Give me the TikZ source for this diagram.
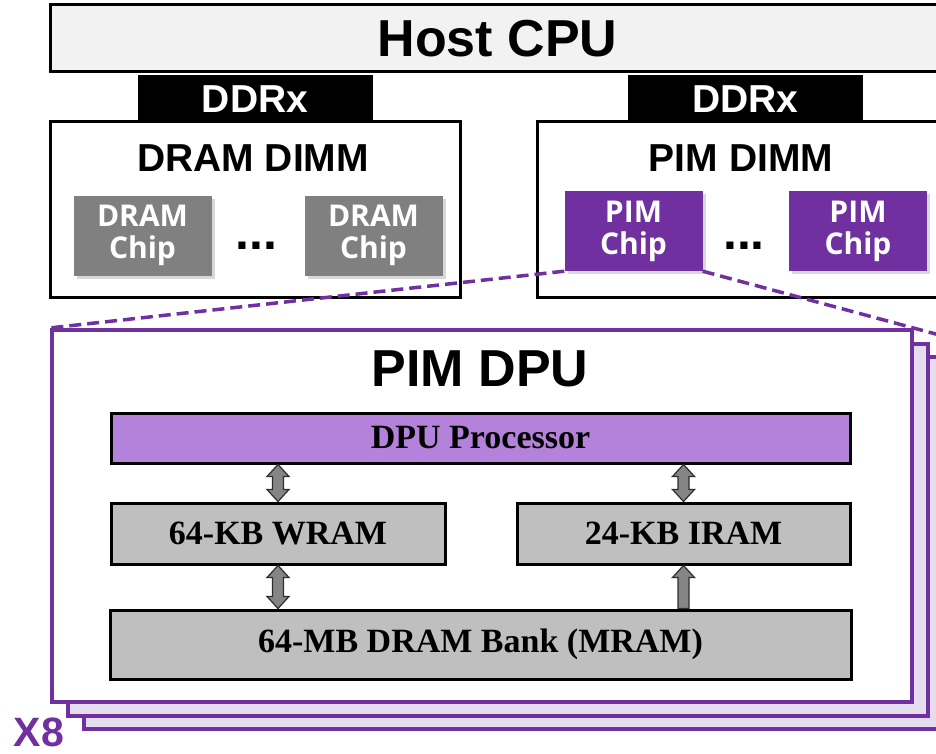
\documentclass[tikz,border=0pt]{standalone}
\usepackage{fontspec}
\setmainfont{Liberation Serif}
\newfontfamily\headfont{Liberation Sans}
\newfontfamily\chipfont{Open Sans}
\usetikzlibrary{calc,shadows}

\definecolor{pimpurple}{HTML}{7030A0}
\definecolor{cpufill}{HTML}{F2F2F2}
\definecolor{dramgray}{HTML}{808080}
\definecolor{procfill}{HTML}{B482DA}
\definecolor{memfill}{HTML}{BFBFBF}
\definecolor{stackfill}{HTML}{E6DCF0}
\definecolor{arrowfill}{HTML}{858585}
\definecolor{arrowline}{HTML}{2E2E2E}

% vertical block arrow with heads at both ends; #1 lower end, #2 upper end
\newcommand{\dualarrow}[2]{%
  \filldraw[blockarrow] let \p1=(#1), \p2=(#2) in
    (\x1,\y1) -- (\x1+11pt,\y1+12pt) -- (\x1+5.5pt,\y1+12pt) --
    (\x1+5.5pt,\y2-12pt) -- (\x1+11pt,\y2-12pt) -- (\x1,\y2) --
    (\x1-11pt,\y2-12pt) -- (\x1-5.5pt,\y2-12pt) --
    (\x1-5.5pt,\y1+12pt) -- (\x1-11pt,\y1+12pt) -- cycle;}
% vertical block arrow pointing up only; #1 lower end, #2 upper end
\newcommand{\uparrowblock}[2]{%
  \filldraw[blockarrow] let \p1=(#1), \p2=(#2) in
    (\x1-5.5pt,\y1) -- (\x1+5.5pt,\y1) -- (\x1+5.5pt,\y2-12pt) --
    (\x1+11pt,\y2-12pt) -- (\x1,\y2) -- (\x1-11pt,\y2-12pt) --
    (\x1-5.5pt,\y2-12pt) -- cycle;}

\begin{document}
\begin{tikzpicture}[x=1pt,y=-1pt,
  every node/.style={inner sep=0pt},
  frame/.style={draw=black, line width=3pt, fill=white},
  busbox/.style={fill=black, text=white, minimum width=235, minimum height=48,
    font=\headfont\bfseries\fontsize{39}{39}\selectfont},
  headtext/.style={font=\headfont\bfseries\fontsize{39}{39}\selectfont},
  chipbox/.style={text=white, align=center, minimum width=138, minimum height=80,
    font=\chipfont\bfseries\fontsize{30}{32}\selectfont,
    drop shadow={shadow xshift=3pt, shadow yshift=-3pt, opacity=0.3}},
  dots/.style={font=\headfont\bfseries\fontsize{50}{50}\selectfont},
  dpuframe/.style={draw=pimpurple, line width=4pt, minimum width=860, minimum height=372},
  membox/.style={draw=black, line width=3pt, fill=memfill,
    font=\bfseries\fontsize{34}{34}\selectfont},
  blockarrow/.style={fill=arrowfill, draw=arrowline, line width=1.2pt},
  zoomline/.style={draw=pimpurple, line width=3.5pt, dash pattern=on 12pt off 6pt}]

\useasboundingbox (0,0) rectangle (936,754);
\clip (0,0) rectangle (936,754);

% host processor and the two memory buses
\node[frame, fill=cpufill, minimum width=895, minimum height=67,
  font=\headfont\bfseries\fontsize{52}{52}\selectfont] (cpu) at (497.5,38.5) {Host CPU};
\node[busbox] (ddrA) at (255,99) {DDRx};
\node[busbox] (ddrB) at (745.5,99) {DDRx};

% conventional DIMM
\node[frame, minimum width=410, minimum height=175] (dramdimm) at (255,209.5) {};
\node[headtext] (dramtitle) at (253,158.5) {DRAM DIMM};
\node[chipbox, fill=dramgray] (dchipA) at (142.5,235.5) {DRAM\\Chip};
\node[chipbox, fill=dramgray] (dchipB) at (373.5,235.5) {DRAM\\Chip};
\node[dots] (ddots) at (256.5,246) {...};

% PIM-enabled DIMM
\node[frame, minimum width=408, minimum height=175] (pimdimm) at (741,209.5) {};
\node[headtext] (pimtitle) at (741,158.5) {PIM DIMM};
\node[chipbox, fill=pimpurple] (pchipA) at (633.5,231) {PIM\\Chip};
\node[chipbox, fill=pimpurple] (pchipB) at (858,231) {PIM\\Chip};
\node[dots] (pdots) at (744,246) {...};

% stack of DPUs per chip
\node[dpuframe, fill=stackfill] (dpuC) at (513.5,543) {};
\node[dpuframe, fill=stackfill] (dpuB) at (497.5,529.5) {};
\node[dpuframe, fill=white] (dpuA) at (481.5,516) {};
\node[font=\headfont\bfseries\fontsize{52}{52}\selectfont] (dputitle) at (480,369) {PIM DPU};

% zoom lines from the PIM chip to the DPU
\draw[zoomline] (pchipA.south west) -- (dpuA.north west);
\draw[zoomline] (pchipA.south east) -- ($(pchipA.south east)!1.25!(dpuA.north east)$);

% DPU internals
\node[membox, fill=procfill, minimum width=739, minimum height=50] (proc) at (480.5,438) {DPU Processor};
\node[membox, minimum width=334, minimum height=61] (wram) at (278,533.5) {64-KB WRAM};
\node[membox, minimum width=333, minimum height=61] (iram) at (683.5,533.5) {24-KB IRAM};
\node[membox, minimum width=741, minimum height=69] (mram) at (480.5,644.5) {64-MB DRAM Bank (MRAM)};

\dualarrow{wram.north}{proc.south -| wram.north}
\dualarrow{iram.north}{proc.south -| iram.north}
\dualarrow{mram.north -| wram.south}{wram.south}
\uparrowblock{mram.north -| iram.south}{iram.south}

\node[text=pimpurple, font=\headfont\bfseries\fontsize{41}{41}\selectfont] (count) at (39,732.5) {X8};
\end{tikzpicture}
\end{document}
